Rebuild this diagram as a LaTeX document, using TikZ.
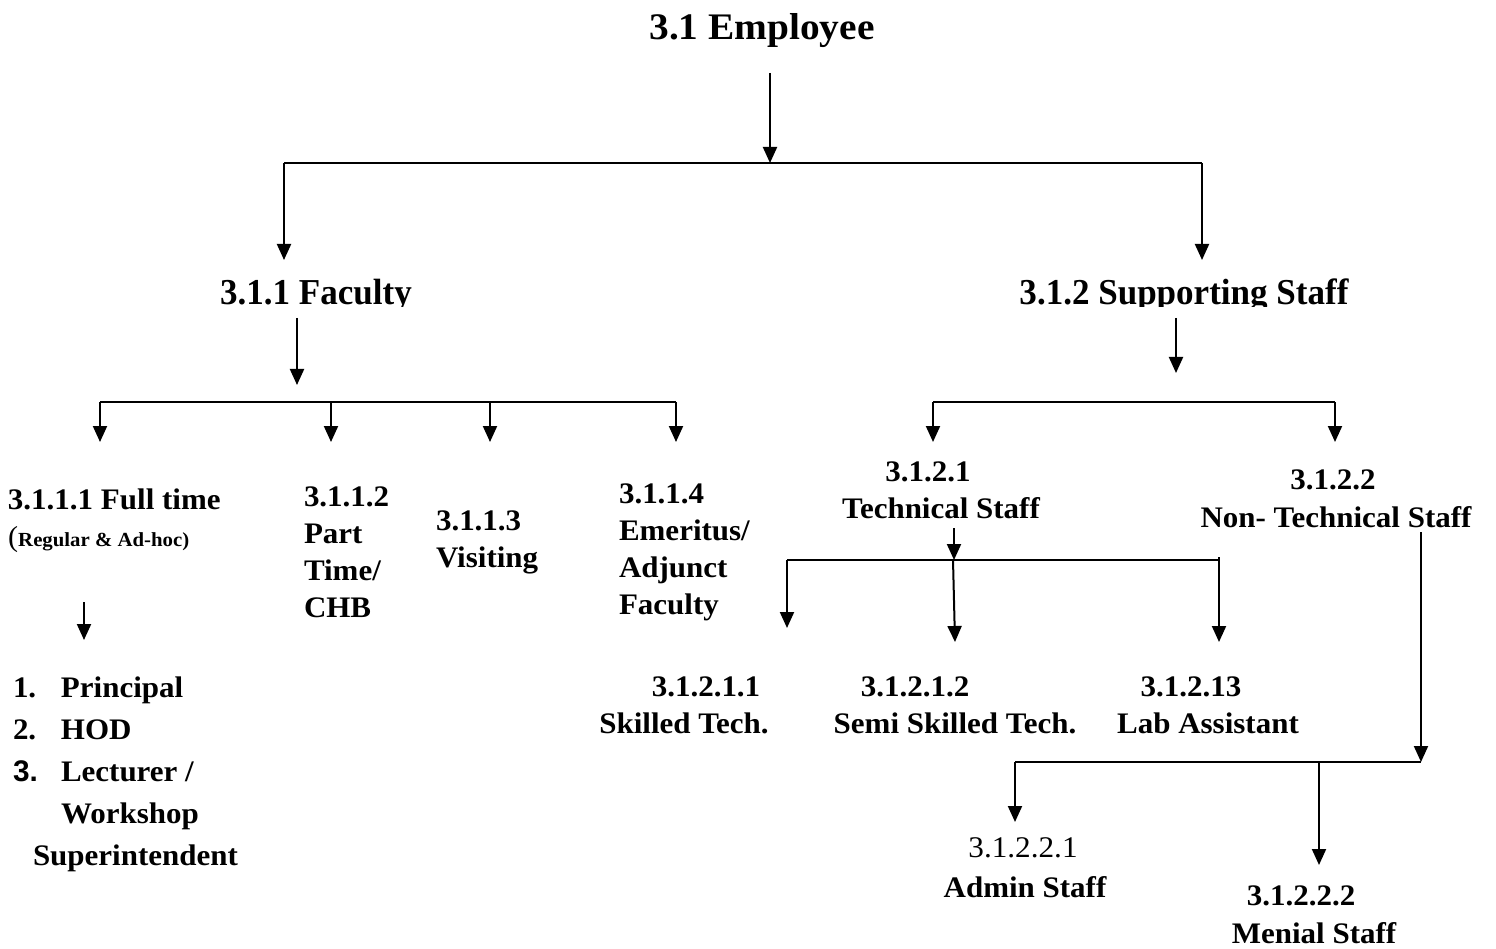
\documentclass[tikz,border=0pt]{standalone}
\usepackage{fontspec}
\usetikzlibrary{arrows.meta,calc}
\newfontfamily\tnr{Liberation Serif}[FakeStretch=1.04]
\newfontfamily\tnrT{Liberation Serif}[FakeStretch=1.05]
\newfontfamily\tnrF{Liberation Serif}[FakeStretch=0.96]
\newfontfamily\arl{Liberation Sans}
\tikzset{
  lbl/.style={inner sep=0pt, outer sep=0pt, font=\tnr\bfseries\fontsize{29.8}{37}\selectfont},
  ttl/.style={inner sep=0pt, outer sep=0pt, font=\tnrT\bfseries\fontsize{37.5}{40}\selectfont},
  lvl/.style={inner sep=0pt, outer sep=0pt, font=\tnrF\bfseries\fontsize{36.5}{40}\selectfont},
  con/.style={line width=2pt},
  arr/.style={con, -{Triangle[length=16pt,width=14pt]}},
}
\begin{document}
\begin{tikzpicture}[x=1pt,y=-1pt]
\useasboundingbox (0,0) rectangle (1496,949);

% ---------- labels ----------
\node[ttl, anchor=base] (emp) at (762,40) {3.1 Employee};
\begin{scope}
  \clip (0,0) rectangle (1496,307);
  \node[lvl, anchor=base] (fac) at (316,305) {3.1.1 Faculty};
  \node[lvl, anchor=base] (sup) at (1184,305) {3.1.2 Supporting Staff};
\end{scope}

\node[lbl, anchor=base west] (ft) at (8,509) {3.1.1.1 Full time};
\node[anchor=base west, inner sep=0pt] (ftr) at (8,546)
  {{\tnr\fontsize{29}{30}\selectfont(}{\tnr\bfseries\fontsize{20}{22}\selectfont Regular \& Ad-hoc)}};
\node[lbl, anchor=base west, font=\tnr\bfseries\fontsize{29.8}{42}\selectfont] (list) at (13,697)
  {\begin{tabular}[t]{@{}l@{}}
   \makebox[48pt][l]{1.}Principal\\
   \makebox[48pt][l]{2.}HOD\\
   \makebox[48pt][l]{\arl 3.}Lecturer /\\
   \hspace*{48pt}Workshop\\
   \hspace*{20pt}Superintendent
   \end{tabular}};
\node[lbl, anchor=base west] (pt) at (304,506)
  {\begin{tabular}[t]{@{}l@{}}3.1.1.2\\Part\\Time/\\CHB\end{tabular}};
\node[lbl, anchor=base west] (vis) at (436,530)
  {\begin{tabular}[t]{@{}l@{}}3.1.1.3\\Visiting\end{tabular}};
\node[lbl, anchor=base west] (em) at (619,503)
  {\begin{tabular}[t]{@{}l@{}}3.1.1.4\\Emeritus/\\Adjunct\\Faculty\end{tabular}};

\node[lbl, anchor=base] (tsn) at (928,481) {3.1.2.1};
\node[lbl, anchor=base] (ts) at (941,518) {Technical Staff};
\node[lbl, anchor=base] (ntsn) at (1333,489) {3.1.2.2};
\node[lbl, anchor=base] (nts) at (1336,527) {Non- Technical Staff};

\node[lbl, anchor=base] (skn) at (706,696) {3.1.2.1.1};
\node[lbl, anchor=base] (sk) at (684,733) {Skilled Tech.};
\node[lbl, anchor=base] (ssn) at (915,696) {3.1.2.1.2};
\node[lbl, anchor=base] (ss) at (955,733) {Semi Skilled Tech.};
\node[lbl, anchor=base] (lan) at (1191,696) {3.1.2.13};
\node[lbl, anchor=base] (la) at (1208,733) {Lab Assistant};

\node[lbl, anchor=base, font=\tnr\mdseries\fontsize{30}{37}\selectfont] (adn) at (1023,857) {3.1.2.2.1};
\node[lbl, anchor=base] (ad) at (1025,897) {Admin Staff};
\node[lbl, anchor=base] (mnn) at (1301,905) {3.1.2.2.2};
\node[lbl, anchor=base] (mn) at (1314,943) {Menial Staff};

% ---------- junction coordinates ----------
\coordinate (e0) at (770,73);
\coordinate (j0) at (770,163);
\coordinate (j0L) at (284,163);
\coordinate (j0R) at (1202,163);
\coordinate (facIn) at (284,260);
\coordinate (supIn) at (1202,260);

\coordinate (f0) at (297,318);
\coordinate (f1) at (297,385);
\coordinate (b1a) at (100,402);
\coordinate (b1b) at (331,402);
\coordinate (b1c) at (490,402);
\coordinate (b1d) at (676,402);

\coordinate (ftA) at (84,602);
\coordinate (ftB) at (84,640);

\coordinate (s0) at (1176,318);
\coordinate (s1) at (1176,373);
\coordinate (b2a) at (933,402);
\coordinate (b2b) at (1335,402);

\coordinate (t0) at (954,528);
\coordinate (t1) at (954,560);
\coordinate (b3a) at (787,560);
\coordinate (b3b) at (953,560);
\coordinate (b3c) at (1219,560);

\coordinate (n0) at (1421,532);
\coordinate (n1) at (1421,762);
\coordinate (b4a) at (1015,762);
\coordinate (b4b) at (1319,762);

% ---------- connectors ----------
\draw[arr] (e0) -- (j0);
\draw[con] (j0L) -- (j0R);
\draw[arr] (j0L) -- (facIn);
\draw[arr] (j0R) -- (supIn);

\draw[arr] (f0) -- (f1);
\draw[con] (b1a) -- (b1d);
\draw[arr] (b1a) -- ++(0,40);
\draw[arr] (b1b) -- ++(0,40);
\draw[arr] (b1c) -- ++(0,40);
\draw[arr] (b1d) -- ++(0,40);

\draw[arr] (ftA) -- (ftB);

\draw[arr] (s0) -- (s1);
\draw[con] (b2a) -- (b2b);
\draw[arr] (b2a) -- ++(0,40);
\draw[arr] (b2b) -- ++(0,40);

\draw[arr] (t0) -- (t1);
\draw[con] (b3a) -- (b3c);
\draw[arr] (b3a) -- ++(0,68);
\draw[arr] (b3b) -- ++(2,82);
\draw[arr] ([yshift=3pt]b3c) -- ++(0,85);

\draw[arr] (n0) -- (n1);
\draw[con] (b4a) -- (n1);
\draw[arr] (b4a) -- ++(0,60);
\draw[arr] (b4b) -- ++(0,103);
\end{tikzpicture}
\end{document}
